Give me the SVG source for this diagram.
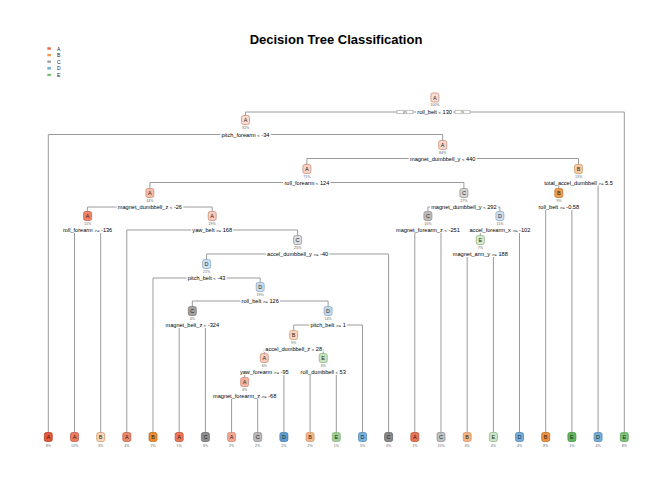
<svg xmlns="http://www.w3.org/2000/svg" width="672" height="480" viewBox="0 0 672 480">
<style>
text{font-family:"Liberation Sans",Arial,Helvetica,sans-serif}
.t{font-size:13px;font-weight:bold;fill:#000}
.lg{font-size:5px;fill:#222}
.b{fill:none;stroke:#9a9a9a;stroke-width:1}
.n{stroke-width:0.7}
.l{font-size:5.5px;text-anchor:middle;fill:#222}
.p{font-size:3.6px;text-anchor:middle;fill:#666}
.s{font-size:5.6px;text-anchor:middle;fill:#000}
.o{font-size:4.4px}
.bg{fill:#fff}
.yn{fill:#fff;stroke:#888;stroke-width:0.5}
.ynt{font-size:2.6px;text-anchor:middle;fill:#444}
.A{fill:#F4B5A2;stroke:#C9836E}
.B{fill:#F9C9A0;stroke:#C89266}
.C{fill:#C4C4C4;stroke:#8A8A8A}
.D{fill:#C9DEF0;stroke:#7F9FBF}
.E{fill:#CDE9C6;stroke:#85AD7D}
</style>
<rect width="672" height="480" fill="#fff"/>
<text class="t" x="336" y="44" text-anchor="middle">Decision Tree Classification</text>
<g id="legend">
<rect x="47.3" y="47.3" width="3.6" height="2.4" fill="#EE6A4A"/><text class="lg" x="57" y="50.6">A</text>
<rect x="47.3" y="53.9" width="3.6" height="2.4" fill="#F59A48"/><text class="lg" x="57" y="57.2">B</text>
<rect x="47.3" y="60.5" width="3.6" height="2.4" fill="#9E9E9E"/><text class="lg" x="57" y="63.8">C</text>
<rect x="47.3" y="67.1" width="3.6" height="2.4" fill="#6BAED6"/><text class="lg" x="57" y="70.4">D</text>
<rect x="47.3" y="73.7" width="3.6" height="2.4" fill="#74C476"/><text class="lg" x="57" y="77.0">E</text>
</g>
<g id="connectors">
<path class="b" d="M245.5,115.5V112H624.3V432.5"/>
<path class="b" d="M48.3,432.5V134.5H442.7V140.5"/>
<path class="b" d="M306.9,164.5V158.5H578.5V164.5"/>
<path class="b" d="M149.9,188.5V182.5H463.9V188.5"/>
<path class="b" d="M558.8,188.5V182.5H598.1V432.5"/>
<path class="b" d="M87.6,211.5V207H212.2V211.5"/>
<path class="b" d="M427.9,211.5V207H499.9V211.5"/>
<path class="b" d="M545.7,432.5V207H571.9V432.5"/>
<path class="b" d="M74.5,432.5V230H100.7V432.5"/>
<path class="b" d="M126.8,432.5V230H297.6V235.5"/>
<path class="b" d="M414.8,432.5V230H441V432.5"/>
<path class="b" d="M480.3,235.5V230H519.5V432.5"/>
<path class="b" d="M206.6,259.5V254H388.6V432.5"/>
<path class="b" d="M467.2,432.5V254H493.4V432.5"/>
<path class="b" d="M153,432.5V278H260.2V282.5"/>
<path class="b" d="M192.3,306.5V301H328.1V306.5"/>
<path class="b" d="M179.2,432.5V325H205.4V432.5"/>
<path class="b" d="M293.7,330.5V325H362.5V432.5"/>
<path class="b" d="M264.3,353.5V349H323.2V353.5"/>
<path class="b" d="M244.65,377.5V372H283.9V432.5"/>
<path class="b" d="M310.1,432.5V372H336.3V432.5"/>
<path class="b" d="M231.6,432.5V396H257.7V432.5"/>
</g>
<g id="n1">
<rect class="n A" x="430.9" y="93" width="8" height="9" rx="2" style="fill:#FADDD2"/>
<text class="l" x="434.9" y="99.5">A</text><text class="p" x="434.9" y="105.5">100%</text>
<rect class="yn" x="397" y="110.2" width="16" height="3.6"/><text class="ynt" x="405" y="113">yes</text>
<rect class="yn" x="455" y="110.2" width="15" height="3.6"/><text class="ynt" x="462.5" y="113">no</text>
<rect class="bg" x="416" y="109" width="37.2" height="6"/>
<text class="s" x="434.6" y="114">roll_belt <tspan class="o">&lt;</tspan> 130</text>
</g>
<g id="n2">
<rect class="n A" x="241.5" y="115.5" width="8" height="9" rx="2" style="fill:#FADCD0"/>
<text class="l" x="245.5" y="122">A</text><text class="p" x="245.5" y="128.5">92%</text>
<rect class="bg" x="220.3" y="131.5" width="50.5" height="6"/>
<text class="s" x="245.5" y="136.5">pitch_forearm <tspan class="o">&lt;</tspan> -34</text>
</g>
<g id="n3">
<rect class="n A" x="438.7" y="140.5" width="8" height="9" rx="2" style="fill:#F9D8CB"/>
<text class="l" x="442.7" y="147">A</text><text class="p" x="442.7" y="153.5">84%</text>
<rect class="bg" x="408.7" y="155.5" width="68" height="6"/>
<text class="s" x="442.7" y="160.5">magnet_dumbbell_y <tspan class="o">&lt;</tspan> 440</text>
</g>
<g id="n4">
<rect class="n A" x="302.9" y="164.5" width="8" height="9" rx="2" style="fill:#F8D2C2"/>
<text class="l" x="306.9" y="171">A</text><text class="p" x="306.9" y="177.5">71%</text>
<rect class="bg" x="283.2" y="179.5" width="47.4" height="6"/>
<text class="s" x="306.9" y="184.5">roll_forearm <tspan class="o">&lt;</tspan> 124</text>
</g>
<g id="n5">
<rect class="n B" x="574.5" y="164.5" width="8" height="9" rx="2" style="fill:#F9CBA3"/>
<text class="l" x="578.5" y="171">B</text><text class="p" x="578.5" y="177.5">13%</text>
<rect class="bg" x="543" y="179.5" width="71" height="6"/>
<text class="s" x="578.5" y="184.5">total_accel_dumbbell <tspan class="o">&gt;=</tspan> 5.5</text>
</g>
<g id="n6">
<rect class="n A" x="145.9" y="188.5" width="8" height="9" rx="2" style="fill:#F5BDA9"/>
<text class="l" x="149.9" y="195">A</text><text class="p" x="149.9" y="201.5">44%</text>
<rect class="bg" x="116.6" y="204" width="66.7" height="6"/>
<text class="s" x="149.9" y="209">magnet_dumbbell_z <tspan class="o">&lt;</tspan> -26</text>
</g>
<g id="n7">
<rect class="n C" x="459.9" y="188.5" width="8" height="9" rx="2" style="fill:#D4D4D4"/>
<text class="l" x="463.9" y="195">C</text><text class="p" x="463.9" y="201.5">27%</text>
<rect class="bg" x="429.9" y="204" width="68" height="6"/>
<text class="s" x="463.9" y="209">magnet_dumbbell_y <tspan class="o">&lt;</tspan> 292</text>
</g>
<g id="n8">
<rect class="n B" x="554.8" y="188.5" width="8" height="9" rx="2" style="fill:#F29B4C;stroke:#B86E2C"/>
<text class="l" x="558.8" y="195">B</text><text class="p" x="558.8" y="201.5">9%</text>
<rect class="bg" x="537.3" y="204" width="43" height="6"/>
<text class="s" x="558.8" y="209">roll_belt <tspan class="o">&gt;=</tspan> -0.58</text>
</g>
<g id="n9">
<rect class="n A" x="83.6" y="211.5" width="8" height="9" rx="2" style="fill:#F08464;stroke:#B85A40"/>
<text class="l" x="87.6" y="218">A</text><text class="p" x="87.6" y="224.5">15%</text>
<rect class="bg" x="61.8" y="227" width="51.6" height="6"/>
<text class="s" x="87.6" y="232">roll_forearm <tspan class="o">&gt;=</tspan> -136</text>
</g>
<g id="n10">
<rect class="n A" x="208.2" y="211.5" width="8" height="9" rx="2" style="fill:#F7CCBD"/>
<text class="l" x="212.2" y="218">A</text><text class="p" x="212.2" y="224.5">29%</text>
<rect class="bg" x="191.2" y="227" width="42" height="6"/>
<text class="s" x="212.2" y="232">yaw_belt <tspan class="o">&gt;=</tspan> 168</text>
</g>
<g id="n11">
<rect class="n C" x="423.9" y="211.5" width="8" height="9" rx="2" style="fill:#BDBDBD"/>
<text class="l" x="427.9" y="218">C</text><text class="p" x="427.9" y="224.5">16%</text>
<rect class="bg" x="394.7" y="227" width="66.4" height="6"/>
<text class="s" x="427.9" y="232">magnet_forearm_z <tspan class="o">&lt;</tspan> -251</text>
</g>
<g id="n12">
<rect class="n D" x="495.9" y="211.5" width="8" height="9" rx="2" style="fill:#CDE0F1"/>
<text class="l" x="499.9" y="218">D</text><text class="p" x="499.9" y="224.5">11%</text>
<rect class="bg" x="468.3" y="227" width="63.1" height="6"/>
<text class="s" x="499.9" y="232">accel_forearm_x <tspan class="o">&gt;=</tspan> -102</text>
</g>
<g id="n13">
<rect class="n C" x="293.6" y="235.5" width="8" height="9" rx="2" style="fill:#DEDEDE"/>
<text class="l" x="297.6" y="242">C</text><text class="p" x="297.6" y="248.5">25%</text>
<rect class="bg" x="265.9" y="251" width="63.4" height="6"/>
<text class="s" x="297.6" y="256">accel_dumbbell_y <tspan class="o">&gt;=</tspan> -40</text>
</g>
<g id="n14">
<rect class="n E" x="476.3" y="235.5" width="8" height="9" rx="2" style="fill:#D5ECCE"/>
<text class="l" x="480.3" y="242">E</text><text class="p" x="480.3" y="248.5">7%</text>
<rect class="bg" x="451.7" y="251" width="57.2" height="6"/>
<text class="s" x="480.3" y="256">magnet_arm_y <tspan class="o">&gt;=</tspan> 188</text>
</g>
<g id="n15">
<rect class="n D" x="202.6" y="259.5" width="8" height="9" rx="2" style="fill:#CFE1F1"/>
<text class="l" x="206.6" y="266">D</text><text class="p" x="206.6" y="272.5">21%</text>
<rect class="bg" x="186.45" y="275" width="40.3" height="6"/>
<text class="s" x="206.6" y="280">pitch_belt <tspan class="o">&lt;</tspan> -43</text>
</g>
<g id="n16">
<rect class="n D" x="256.2" y="282.5" width="8" height="9" rx="2" style="fill:#CADEF0"/>
<text class="l" x="260.2" y="289">D</text><text class="p" x="260.2" y="295.5">19%</text>
<rect class="bg" x="240.5" y="298" width="39.5" height="6"/>
<text class="s" x="260.2" y="303">roll_belt <tspan class="o">&gt;=</tspan> 126</text>
</g>
<g id="n17">
<rect class="n C" x="188.3" y="306.5" width="8" height="9" rx="2" style="fill:#A2A2A2;stroke:#707070"/>
<text class="l" x="192.3" y="313">C</text><text class="p" x="192.3" y="319.5">4%</text>
<rect class="bg" x="164.3" y="322" width="56.1" height="6"/>
<text class="s" x="192.3" y="327">magnet_belt_z <tspan class="o">&lt;</tspan> -324</text>
</g>
<g id="n18">
<rect class="n D" x="324.1" y="306.5" width="8" height="9" rx="2" style="fill:#C3DAEF"/>
<text class="l" x="328.1" y="313">D</text><text class="p" x="328.1" y="319.5">14%</text>
<rect class="bg" x="309.3" y="322" width="37.6" height="6"/>
<text class="s" x="328.1" y="327">pitch_belt <tspan class="o">&gt;=</tspan> 1</text>
</g>
<g id="n19">
<rect class="n B" x="289.7" y="330.5" width="8" height="9" rx="2" style="fill:#FAD7BC"/>
<text class="l" x="293.7" y="337">B</text><text class="p" x="293.7" y="343.5">9%</text>
<rect class="bg" x="264.1" y="346" width="59.3" height="6"/>
<text class="s" x="293.7" y="351">accel_dumbbell_z <tspan class="o">&lt;</tspan> 28</text>
</g>
<g id="n20">
<rect class="n A" x="260.3" y="353.5" width="8" height="9" rx="2" style="fill:#F8CDBD"/>
<text class="l" x="264.3" y="360">A</text><text class="p" x="264.3" y="366.5">6%</text>
<rect class="bg" x="238.8" y="369" width="51" height="6"/>
<text class="s" x="264.3" y="374">yaw_forearm <tspan class="o">&gt;=</tspan> -95</text>
</g>
<g id="n21">
<rect class="n E" x="319.2" y="353.5" width="8" height="9" rx="2" style="fill:#C6E6BE"/>
<text class="l" x="323.2" y="360">E</text><text class="p" x="323.2" y="366.5">3%</text>
<rect class="bg" x="299.35" y="369" width="47.7" height="6"/>
<text class="s" x="323.2" y="374">roll_dumbbell <tspan class="o">&lt;</tspan> 53</text>
</g>
<g id="n22">
<rect class="n A" x="240.65" y="377.5" width="8" height="9" rx="2" style="fill:#F4B5A2"/>
<text class="l" x="244.65" y="384">A</text><text class="p" x="244.65" y="390.5">4%</text>
<rect class="bg" x="211.85" y="393" width="65.6" height="6"/>
<text class="s" x="244.65" y="398">magnet_forearm_z <tspan class="o">&gt;=</tspan> -68</text>
</g>
<g id="leaf1"><rect class="n A" x="44.3" y="432.5" width="8" height="9" rx="2" style="fill:#E8553A;stroke:#A8391F"/><text class="l" x="48.3" y="439">A</text><text class="p" x="48.3" y="446.5">8%</text></g>
<g id="leaf2"><rect class="n A" x="70.5" y="432.5" width="8" height="9" rx="2" style="fill:#EF7A5E;stroke:#B0553C"/><text class="l" x="74.5" y="439">A</text><text class="p" x="74.5" y="446.5">12%</text></g>
<g id="leaf3"><rect class="n B" x="96.7" y="432.5" width="8" height="9" rx="2" style="fill:#F8D6B8"/><text class="l" x="100.7" y="439">B</text><text class="p" x="100.7" y="446.5">3%</text></g>
<g id="leaf4"><rect class="n A" x="122.8" y="432.5" width="8" height="9" rx="2" style="fill:#F08466;stroke:#B05A40"/><text class="l" x="126.8" y="439">A</text><text class="p" x="126.8" y="446.5">4%</text></g>
<g id="leaf5"><rect class="n B" x="149" y="432.5" width="8" height="9" rx="2" style="fill:#F08B30;stroke:#B0621A"/><text class="l" x="153" y="439">B</text><text class="p" x="153" y="446.5">2%</text></g>
<g id="leaf6"><rect class="n A" x="175.2" y="432.5" width="8" height="9" rx="2" style="fill:#EF7356;stroke:#AE4E35"/><text class="l" x="179.2" y="439">A</text><text class="p" x="179.2" y="446.5">1%</text></g>
<g id="leaf7"><rect class="n C" x="201.4" y="432.5" width="8" height="9" rx="2" style="fill:#8E8E8E;stroke:#5E5E5E"/><text class="l" x="205.4" y="439">C</text><text class="p" x="205.4" y="446.5">3%</text></g>
<g id="leaf8"><rect class="n A" x="227.6" y="432.5" width="8" height="9" rx="2" style="fill:#F4A690"/><text class="l" x="231.6" y="439">A</text><text class="p" x="231.6" y="446.5">2%</text></g>
<g id="leaf9"><rect class="n C" x="253.7" y="432.5" width="8" height="9" rx="2" style="fill:#B8B8B8"/><text class="l" x="257.7" y="439">C</text><text class="p" x="257.7" y="446.5">2%</text></g>
<g id="leaf10"><rect class="n D" x="279.9" y="432.5" width="8" height="9" rx="2" style="fill:#5D9FD2;stroke:#3C73A0"/><text class="l" x="283.9" y="439">D</text><text class="p" x="283.9" y="446.5">2%</text></g>
<g id="leaf11"><rect class="n B" x="306.1" y="432.5" width="8" height="9" rx="2" style="fill:#F4B486"/><text class="l" x="310.1" y="439">B</text><text class="p" x="310.1" y="446.5">2%</text></g>
<g id="leaf12"><rect class="n E" x="332.3" y="432.5" width="8" height="9" rx="2" style="fill:#9CD192"/><text class="l" x="336.3" y="439">E</text><text class="p" x="336.3" y="446.5">1%</text></g>
<g id="leaf13"><rect class="n D" x="358.5" y="432.5" width="8" height="9" rx="2" style="fill:#78B2DC;stroke:#4C82AC"/><text class="l" x="362.5" y="439">D</text><text class="p" x="362.5" y="446.5">5%</text></g>
<g id="leaf14"><rect class="n C" x="384.6" y="432.5" width="8" height="9" rx="2" style="fill:#8A8A8A;stroke:#5A5A5A"/><text class="l" x="388.6" y="439">C</text><text class="p" x="388.6" y="446.5">4%</text></g>
<g id="leaf15"><rect class="n A" x="410.8" y="432.5" width="8" height="9" rx="2" style="fill:#EE7052;stroke:#AE4C32"/><text class="l" x="414.8" y="439">A</text><text class="p" x="414.8" y="446.5">1%</text></g>
<g id="leaf16"><rect class="n C" x="437" y="432.5" width="8" height="9" rx="2" style="fill:#C0C0C0"/><text class="l" x="441" y="439">C</text><text class="p" x="441" y="446.5">15%</text></g>
<g id="leaf17"><rect class="n B" x="463.2" y="432.5" width="8" height="9" rx="2" style="fill:#F7B37B"/><text class="l" x="467.2" y="439">B</text><text class="p" x="467.2" y="446.5">3%</text></g>
<g id="leaf18"><rect class="n E" x="489.4" y="432.5" width="8" height="9" rx="2" style="fill:#CBE8C2"/><text class="l" x="493.4" y="439">E</text><text class="p" x="493.4" y="446.5">4%</text></g>
<g id="leaf19"><rect class="n D" x="515.5" y="432.5" width="8" height="9" rx="2" style="fill:#74AEDA;stroke:#4A80AA"/><text class="l" x="519.5" y="439">D</text><text class="p" x="519.5" y="446.5">4%</text></g>
<g id="leaf20"><rect class="n B" x="541.7" y="432.5" width="8" height="9" rx="2" style="fill:#F0903E;stroke:#B06622"/><text class="l" x="545.7" y="439">B</text><text class="p" x="545.7" y="446.5">8%</text></g>
<g id="leaf21"><rect class="n E" x="567.9" y="432.5" width="8" height="9" rx="2" style="fill:#5FB65E;stroke:#3C8A3C"/><text class="l" x="571.9" y="439">E</text><text class="p" x="571.9" y="446.5">1%</text></g>
<g id="leaf22"><rect class="n D" x="594.1" y="432.5" width="8" height="9" rx="2" style="fill:#74AEDA;stroke:#4A80AA"/><text class="l" x="598.1" y="439">D</text><text class="p" x="598.1" y="446.5">4%</text></g>
<g id="leaf23"><rect class="n E" x="620.3" y="432.5" width="8" height="9" rx="2" style="fill:#7FC47B;stroke:#559A52"/><text class="l" x="624.3" y="439">E</text><text class="p" x="624.3" y="446.5">8%</text></g>
</svg>
